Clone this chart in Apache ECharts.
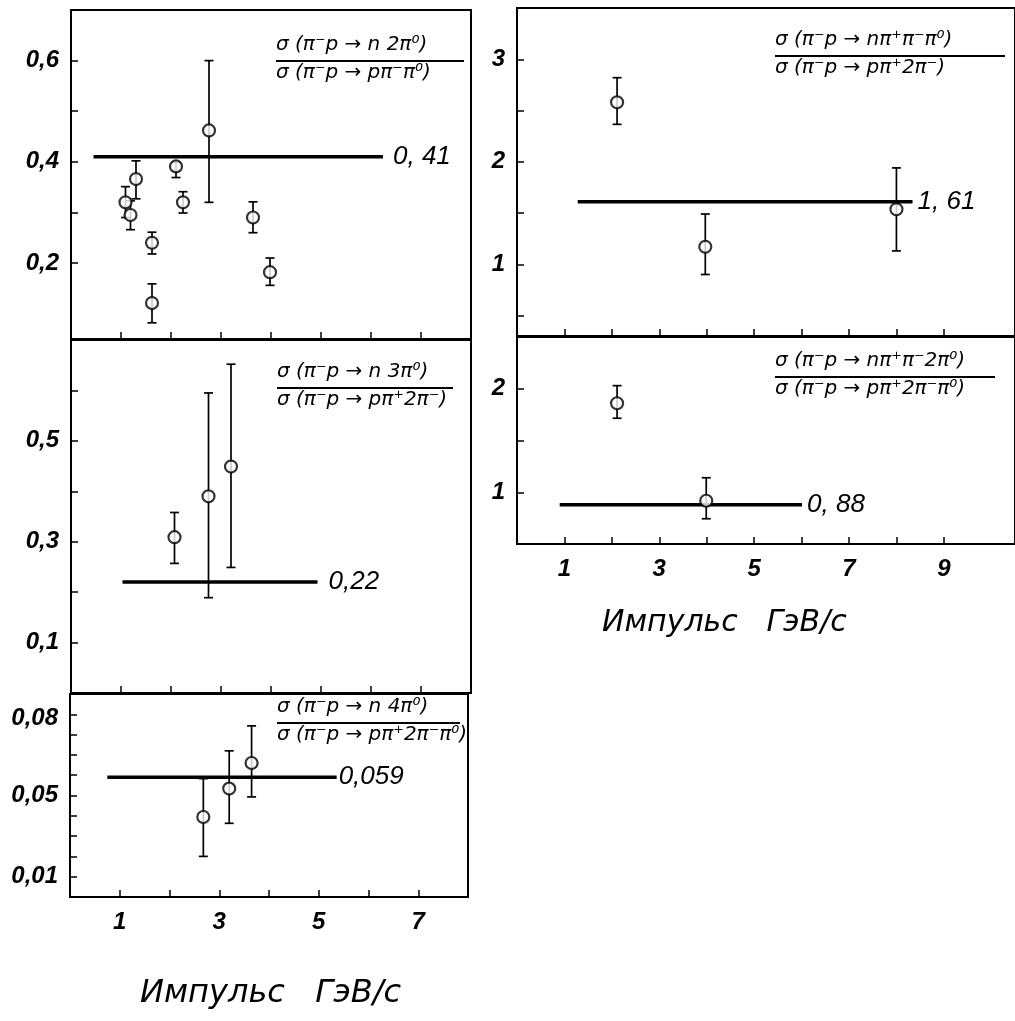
<!DOCTYPE html>
<html>
<head>
<meta charset="utf-8">
<script src="https://cdn.jsdelivr.net/npm/echarts@6/dist/echarts.min.js"></script>
<style>
html,body{margin:0;padding:0;background:#fff;}
#chart{width:1015px;height:1021px;}
</style>
</head>
<body>
<div id="chart"></div>
<script>
// panel 1: n 2pi0 / p pi- pi0
const p1X  = [1.09, 1.19, 1.30, 1.62, 1.62, 2.10, 2.24, 2.76, 3.64, 3.98];
const p1Y  = [0.320, 0.295, 0.366, 0.240, 0.121, 0.391, 0.320, 0.462, 0.290, 0.182];
const p1Hi = [0.351, 0.323, 0.402, 0.261, 0.159, 0.399, 0.341, 0.600, 0.321, 0.210];
const p1Lo = [0.290, 0.266, 0.327, 0.218, 0.082, 0.369, 0.299, 0.320, 0.260, 0.156];
const p1Mean = 0.41, p1MeanX = [0.45, 6.24];

// panel 2: n 3pi0 / p pi+ 2pi-
const p2X  = [2.07, 2.75, 3.20];
const p2Y  = [0.309, 0.390, 0.449];
const p2Hi = [0.358, 0.595, 0.652];
const p2Lo = [0.257, 0.189, 0.249];
const p2Mean = 0.22, p2MeanX = [1.03, 4.93];

// panel 3: n 4pi0 / p pi+ 2pi- pi0
const p3X  = [2.68, 3.20, 3.65];
const p3Y  = [0.0394, 0.0534, 0.0660];
const p3Hi = [0.0583, 0.0720, 0.0843];
const p3Lo = [0.0200, 0.0363, 0.0493];
const p3Mean = 0.059, p3MeanX = [0.75, 5.36];

// panel 4: n pi+ pi- pi0 / p pi+ 2pi-
const p4X  = [2.11, 3.97, 8.00];
const p4Y  = [2.58, 1.17, 1.536];
const p4Hi = [2.82, 1.49, 1.94];
const p4Lo = [2.365, 0.90, 1.13];
const p4Mean = 1.61, p4MeanX = [1.28, 8.34];

// panel 5: n pi+ pi- 2pi0 / p pi+ 2pi- pi0
const p5X  = [2.11, 3.99];
const p5Y  = [1.86, 0.918];
const p5Hi = [2.03, 1.14];
const p5Lo = [1.715, 0.744];
const p5Mean = 0.88, p5MeanX = [0.90, 6.01];

// ticks and labels
const leftXTicks = [1, 2, 3, 4, 5, 6, 7];
const leftXLabels = [1, 3, 5, 7];
const rightXTicks = [1, 2, 3, 4, 5, 6, 7, 8, 9];
const rightXLabels = [1, 3, 5, 7, 9];
const y1Ticks = [0.2, 0.3, 0.4, 0.5, 0.6];
const y1Labels = [0.2, 0.4, 0.6];
const y2Ticks = [0.1, 0.2, 0.3, 0.4, 0.5, 0.6];
const y2Labels = [0.1, 0.3, 0.5];
const y3Ticks = [0.01, 0.02, 0.03, 0.04, 0.05, 0.06, 0.07, 0.08, 0.09];
const y3Labels = [0.01, 0.05, 0.088];
const y3LabelText = ['0,01', '0,05', '0,08'];
const y4Ticks = [0.5, 1, 1.5, 2, 2.5, 3];
const y4Labels = [1, 2, 3];
const y5Ticks = [1, 1.5, 2];
const y5Labels = [1, 2];

const tickFont = {fontFamily: 'Liberation Sans', fontStyle: 'italic', fontWeight: 'bold', fontSize: 24, color: '#000'};
const valFont = {fontFamily: 'Liberation Sans', fontStyle: 'italic', fontSize: 26, color: '#000'};
const fracFont = 'italic 20px "DejaVu Sans"';

function comma(v) {
    return String(v).replace('.', ',');
}

function xAxis(gi, min, max, ticks, labels) {
    return {
        type: 'value', gridIndex: gi, min: min, max: max,
        axisLine: {lineStyle: {color: '#000', width: 2}},
        axisTick: {inside: true, length: 7, customValues: ticks, lineStyle: {color: '#000', width: 1.5}},
        axisLabel: labels ? Object.assign({customValues: labels, margin: 13, formatter: comma}, tickFont) : {show: false},
        splitLine: {show: false}
    };
}

function yAxis(gi, min, max, ticks, labels, fmt) {
    return {
        type: 'value', gridIndex: gi, min: min, max: max,
        axisLine: {lineStyle: {color: '#000', width: 2}},
        axisTick: {inside: true, length: 7, customValues: ticks, lineStyle: {color: '#000', width: 1.5}},
        axisLabel: Object.assign({customValues: labels, margin: 12, formatter: fmt || comma}, tickFont),
        splitLine: {show: false}
    };
}

function points(gi, xs, ys) {
    return {
        type: 'scatter', xAxisIndex: gi, yAxisIndex: gi, z: 5,
        symbol: 'circle', symbolSize: 12,
        itemStyle: {color: '#fff', borderColor: '#000', borderWidth: 2.2},
        data: xs.map((x, i) => [x, ys[i]])
    };
}

function errors(gi, xs, lo, hi) {
    return {
        type: 'custom', xAxisIndex: gi, yAxisIndex: gi, z: 3,
        encode: {x: 0, y: [1, 2]},
        data: xs.map((x, i) => [x, lo[i], hi[i]]),
        renderItem: function (params, api) {
            let a = api.coord([api.value(0), api.value(1)]);
            let b = api.coord([api.value(0), api.value(2)]);
            let w = 4.5;
            let st = {stroke: '#000', lineWidth: 1.7};
            return {
                type: 'group',
                children: [
                    {type: 'line', shape: {x1: a[0], y1: a[1], x2: b[0], y2: b[1]}, style: st},
                    {type: 'line', shape: {x1: a[0] - w, y1: a[1], x2: a[0] + w, y2: a[1]}, style: st},
                    {type: 'line', shape: {x1: b[0] - w, y1: b[1], x2: b[0] + w, y2: b[1]}, style: st}
                ]
            };
        }
    };
}

function meanLine(gi, xr, v, text, dist) {
    return {
        type: 'line', xAxisIndex: gi, yAxisIndex: gi, z: 4,
        symbol: 'none', silent: true,
        lineStyle: {color: '#000', width: 3.5},
        data: [[xr[0], v], [xr[1], v]],
        endLabel: Object.assign({show: true, formatter: text, distance: dist}, valFont)
    };
}

function fraction(x, y, w, top, bottom) {
    return [
        {type: 'text', left: x, top: y - 26, style: {text: top, font: fracFont, fill: '#000'}},
        {type: 'line', shape: {x1: x, y1: y, x2: x + w, y2: y}, style: {stroke: '#000', lineWidth: 2}},
        {type: 'text', left: x, top: y + 2, style: {text: bottom, font: fracFont, fill: '#000'}}
    ];
}

const grids = [
    {left: 71, top: 10, width: 400, height: 329},
    {left: 71, top: 340, width: 400, height: 353},
    {left: 70, top: 694, width: 398, height: 203},
    {left: 517, top: 8, width: 523, height: 328},
    {left: 517, top: 337, width: 523, height: 207}
].map(g => Object.assign({show: true, borderColor: '#000', borderWidth: 2, backgroundColor: 'transparent'}, g));

const option = {
    backgroundColor: '#fff',
    animation: false,
    grid: grids,
    xAxis: [
        xAxis(0, 0, 8, leftXTicks, null),
        xAxis(1, 0, 8, leftXTicks, null),
        xAxis(2, 0, 8, leftXTicks, leftXLabels),
        xAxis(3, 0, 10.5, rightXTicks, null),
        xAxis(4, 0, 10.5, rightXTicks, rightXLabels)
    ],
    yAxis: [
        yAxis(0, 0.05, 0.7, y1Ticks, y1Labels),
        yAxis(1, 0, 0.7, y2Ticks, y2Labels),
        yAxis(2, 0, 0.1, y3Ticks, y3Labels, function (v) {
            let i = y3Labels.findIndex(t => Math.abs(t - v) < 1e-6);
            return i < 0 ? '' : y3LabelText[i];
        }),
        yAxis(3, 0.3, 3.5, y4Ticks, y4Labels),
        yAxis(4, 0.5, 2.5, y5Ticks, y5Labels)
    ],
    series: [
        errors(0, p1X, p1Lo, p1Hi), points(0, p1X, p1Y), meanLine(0, p1MeanX, p1Mean, '0, 41', 10),
        errors(1, p2X, p2Lo, p2Hi), points(1, p2X, p2Y), meanLine(1, p2MeanX, p2Mean, '0,22', 11),
        errors(2, p3X, p3Lo, p3Hi), points(2, p3X, p3Y), meanLine(2, p3MeanX, p3Mean, '0,059', 2),
        errors(3, p4X, p4Lo, p4Hi), points(3, p4X, p4Y), meanLine(3, p4MeanX, p4Mean, '1, 61', 5),
        errors(4, p5X, p5Lo, p5Hi), points(4, p5X, p5Y), meanLine(4, p5MeanX, p5Mean, '0, 88', 5)
    ],
    graphic: [].concat(
        fraction(276, 61, 188, 'σ (π⁻p → n 2π⁰)', 'σ (π⁻p → pπ⁻π⁰)'),
        fraction(277, 388, 176, 'σ (π⁻p → n 3π⁰)', 'σ (π⁻p → pπ⁺2π⁻)'),
        fraction(277, 723, 183, 'σ (π⁻p → n 4π⁰)', 'σ (π⁻p → pπ⁺2π⁻π⁰)'),
        fraction(775, 56, 230, 'σ (π⁻p → nπ⁺π⁻π⁰)', 'σ (π⁻p → pπ⁺2π⁻)'),
        fraction(775, 377, 220, 'σ (π⁻p → nπ⁺π⁻2π⁰)', 'σ (π⁻p → pπ⁺2π⁻π⁰)'),
        [
            {type: 'text', left: 140, top: 978, style: {text: 'Импульс   ГэВ/с', font: 'italic 32px "DejaVu Sans"', fill: '#000'}},
            {type: 'text', left: 602, top: 608, style: {text: 'Импульс   ГэВ/с', font: 'italic 30px "DejaVu Sans"', fill: '#000'}}
        ]
    )
};

const myChart = echarts.init(document.getElementById('chart'));
myChart.setOption(option);
</script>
</body>
</html>
